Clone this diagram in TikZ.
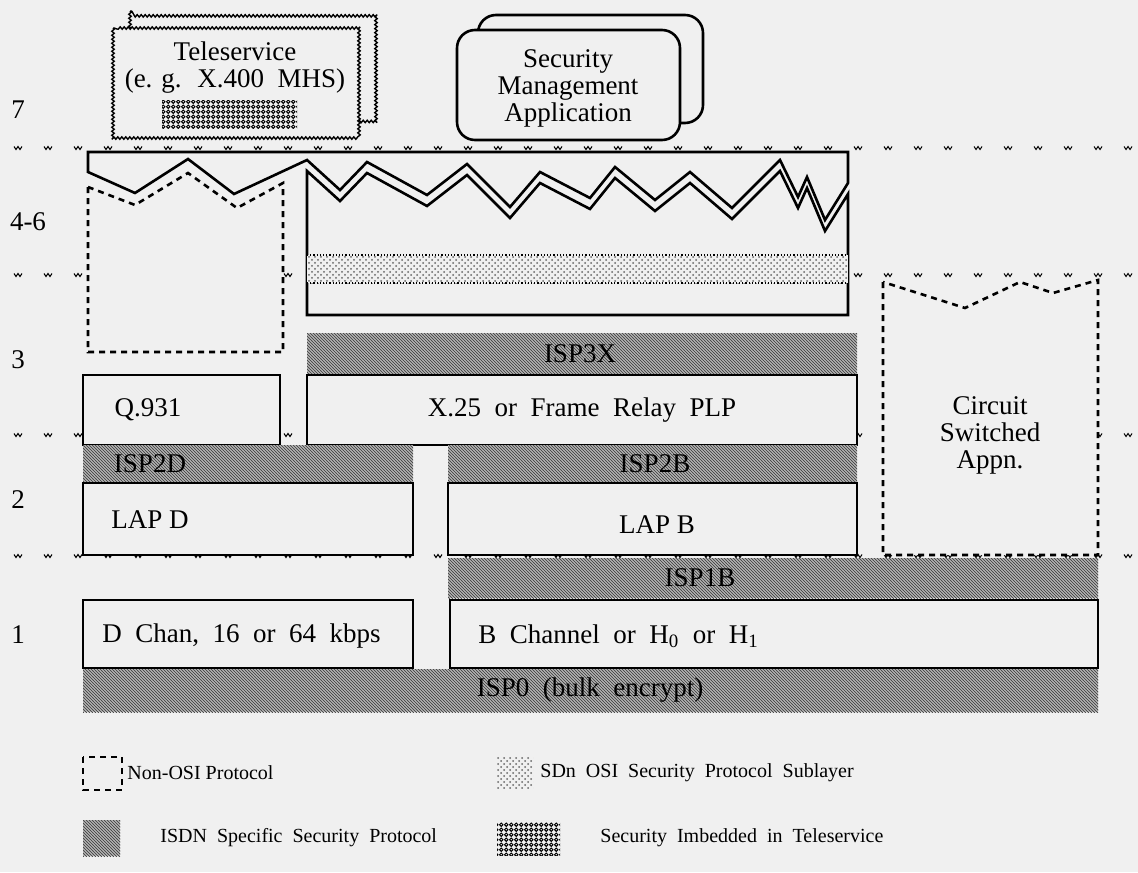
\documentclass[tikz,border=0pt]{standalone}
\usepackage{fontspec}
\setmainfont{Liberation Serif}
\usetikzlibrary{patterns,patterns.meta,decorations.pathmorphing}
\definecolor{paper}{gray}{0.94}
\tikzdeclarepattern{
  name=isphatch,
  type=uncolored,
  bounding box={(-.1pt,-.1pt) and (1.6pt,1.6pt)},
  tile size={(1.5pt,1.5pt)},
  code={\draw[line width=.45pt] (-.1pt,1.6pt) -- (1.6pt,-.1pt);}
}
\tikzdeclarepattern{
  name=hexcells,
  type=uncolored,
  bounding box={(0pt,0pt) and (2.6pt,2.6pt)},
  tile size={(2.6pt,2.6pt)},
  code={\draw[line width=.55pt] (1.3pt,1.3pt) circle (.95pt);}
}
\tikzset{
  layer/.style={draw, line width=1.3pt, fill=paper},
  nonosi/.style={draw, line width=1.3pt, dash pattern=on 3pt off 2.5pt, fill=paper},
  isp/.style={fill=black!22, postaction={pattern=isphatch, pattern color=black!70}},
  sdn/.style={fill=black!6, postaction={pattern=crosshatch dots, pattern color=black!60}},
  imbed/.style={fill=paper, postaction={pattern=hexcells, pattern color=black}},
  wavy/.style={draw, line width=.7pt, fill=paper, decorate,
    decoration={snake, amplitude=.6pt, segment length=2pt}},
  lbl/.style={font=\fontsize{13.5}{13.5}\selectfont, inner sep=0pt, align=center},
  legendtext/.style={font=\fontsize{10}{12}\selectfont, inner sep=0pt, anchor=west},
}
\begin{document}
\begin{tikzpicture}[x=0.5pt, y=-0.5pt]
    \useasboundingbox[fill=paper] (0,0) rectangle (1138,872);
    % Layer separators
    \foreach \y in {148,275,435,556}{
        \foreach \x in {18,48,...,1128}{
            \draw[line width=.5pt] (\x-4,\y-1.5) -- ++(2,3) -- ++(2,-3) -- ++(2,3) -- ++(2,-3);
        }
    }
    % Layer numbers
    \node[lbl] (l7) at (18,110) {7};
    \node[lbl] (l46) at (28,222) {4-6};
    \node[lbl] (l3) at (18,360) {3};
    \node[lbl] (l2) at (18,500) {2};
    \node[lbl] (l1) at (18,635) {1};
    % Layer 7 applications
    \path[wavy] (130,11) rectangle (375,120);
    \path[wavy] (113,28) rectangle (358,139);
    \node[lbl] (tele) at (235,68) {Teleservice\\(e. g. \ X.400 \ MHS)};
    \fill[imbed] (162,100) rectangle (297,128);
    \draw[layer, rounded corners=9pt] (478,15) rectangle (703,123);
    \draw[layer, rounded corners=9pt] (457,30) rectangle (680,140);
    \node[lbl] (secmgmt) at (568,88) {Security\\Management\\Application};
    % Layers 4-6
    \draw[nonosi] (88,187) -- (88,352) -- (283,352) -- (283,183) -- (237,208)
        -- (188,173) -- (135,205) -- cycle;
    \draw[layer] (307,171) -- (307,315) -- (848,315) -- (848,194)
        \foreach \x/\y in {825/220, 807/177, 798/197, 780/160, 732/208, 690/172,
                           655/200, 615/167, 590/198, 540/172, 510/207, 467/164,
                           427/195, 367/162, 340/190}{ -- (\x,\y+11) } -- cycle;
    \draw[layer] (88,152) -- (848,152) -- (848,183)
        \foreach \x/\y in {825/220, 807/177, 798/197, 780/160, 732/208, 690/172,
                           655/200, 615/167, 590/198, 540/172, 510/207, 467/164,
                           427/195, 367/162, 340/190}{ -- (\x,\y) }
        -- (307,160) -- (234,194) -- (188,159) -- (135,193) -- (88,172) -- cycle;
    \fill[sdn] (307,255) rectangle (848,283);
    \draw[densely dotted, line width=.6pt] (307,255) -- (848,255) (307,283) -- (848,283);
    % Circuit switched
    \draw[nonosi] (883,282) -- (883,555) -- (1098,555) -- (1098,280) -- (1053,293)
        -- (1020,282) -- (965,308) -- cycle;
    \node[lbl] (csa) at (990,435) {Circuit\\Switched\\Appn.};
    % Layer 3
    \fill[isp] (307,333) rectangle (857,375);
    \node[lbl] (isp3x) at (580,354) {ISP3X};
    \draw[layer] (83,375) rectangle (280,445);
    \node[lbl] (q931) at (148,410) {Q.931};
    \draw[layer] (307,375) rectangle (857,445);
    \node[lbl] (x25) at (582,410) {X.25 \ or \ Frame \ Relay \ PLP};
    % Layer 2
    \fill[isp] (83,445) rectangle (413,483);
    \node[lbl] (isp2d) at (150,464) {ISP2D};
    \fill[isp] (448,445) rectangle (857,483);
    \node[lbl] (isp2b) at (655,464) {ISP2B};
    \draw[layer] (83,483) rectangle (413,555);
    \node[lbl] (lapd) at (150,520) {LAP D};
    \draw[layer] (448,483) rectangle (857,555);
    \node[lbl] (lapb) at (657,525) {LAP B};
    % Layer 1
    \fill[isp] (448,558) rectangle (1098,598);
    \node[lbl] (isp1b) at (700,578) {ISP1B};
    \draw[layer] (83,600) rectangle (413,668);
    \node[lbl, anchor=west] (dchan) at (102,636) {D \ Chan, \ 16 \ or \ 64 \ kbps};
    \draw[layer] (450,600) rectangle (1098,668);
    \node[lbl, anchor=west] (bchan) at (478,636) {B \ Channel \ or \ H\textsubscript{0} \ or \ H\textsubscript{1}};
    \fill[isp] (83,669) rectangle (1098,712);
    \node[lbl] (isp0) at (590,690) {ISP0 \ (bulk \ encrypt)};
    % Legend
    \draw[nonosi, line width=1pt] (83,757) rectangle (122,790);
    \node[legendtext] (knonosi) at (127,773) {Non-OSI Protocol};
    \fill[sdn] (497,757) rectangle (533,788);
    \node[legendtext] (ksdn) at (540,773) {SDn \ OSI \ Security \ Protocol \ Sublayer};
    \fill[isp] (83,820) rectangle (120,856);
    \node[legendtext] (kisp) at (160,838) {ISDN \ Specific \ Security \ Protocol};
    \fill[imbed] (497,822) rectangle (560,855);
    \node[legendtext] (kimbed) at (600,838) {Security \ Imbedded \ in \ Teleservice};
\end{tikzpicture}
\end{document}
